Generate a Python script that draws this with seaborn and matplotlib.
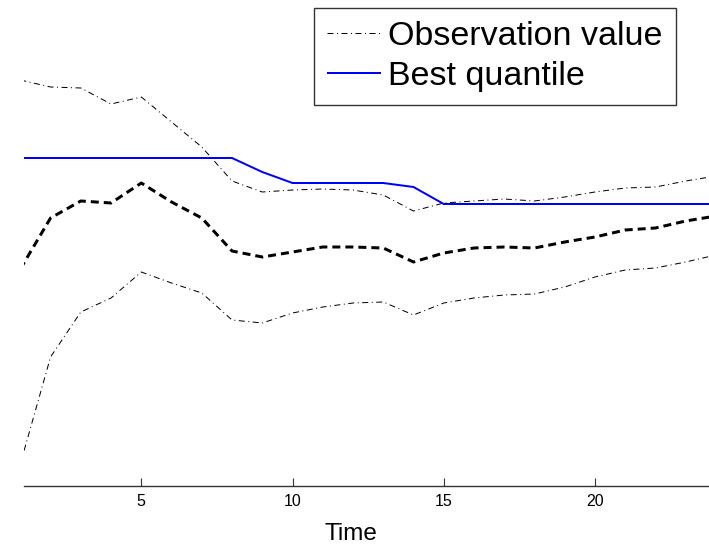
import matplotlib
matplotlib.use("Agg")
import matplotlib.pyplot as plt
import seaborn as sns
import pandas as pd

# ---- data (y in arbitrary units) ----
time = list(range(1, 25))
obs_upper = [406, 399, 398, 382, 389, 364, 339, 305, 294, 296, 297, 296,
             291, 275, 283, 285, 287, 285, 289, 294, 298, 299, 305, 310]
obs_mean = [217, 268, 285, 283, 303, 284, 268, 235, 229, 234, 239, 239,
            238, 224, 233, 238, 239, 238, 244, 249, 256, 258, 265, 270]
obs_lower = [22, 129, 174, 188, 214, 203, 193, 166, 163, 173, 179, 183,
             184, 171, 183, 188, 191, 192, 199, 209, 216, 218, 224, 231]
best_quantile = [328, 328, 328, 328, 328, 328, 328, 328, 314, 303, 303, 303,
                 303, 299, 282, 282, 282, 282, 282, 282, 282, 282, 282, 282]
xticks = [5, 10, 15, 20]
legend_labels = ["Observation value", "Best quantile"]

sns.set_style("white")
plt.rcParams["font.family"] = ["Liberation Sans", "DejaVu Sans"]
plt.rcParams["lines.scale_dashes"] = False
plt.rcParams["text.color"] = "black"
plt.rcParams["axes.labelcolor"] = "black"
plt.rcParams["xtick.color"] = "black"

W, H = 709, 545
fig = plt.figure(figsize=(W / 100, H / 100), dpi=100)
ax = fig.add_axes([24 / W, (H - 486) / H, (709 - 24) / W, 486 / H])

df = pd.DataFrame({"Time": time, "upper": obs_upper, "mean": obs_mean,
                   "lower": obs_lower, "best": best_quantile})

px = 0.72  # one pixel in points
dashdot = (6 * px, 3.5 * px, 1 * px, 3.5 * px)

sns.lineplot(data=df, x="Time", y="upper", ax=ax, color="black",
             linewidth=1 * px, label=legend_labels[0])
sns.lineplot(data=df, x="Time", y="lower", ax=ax, color="black",
             linewidth=1 * px, label="_nolegend_")
sns.lineplot(data=df, x="Time", y="mean", ax=ax, color="black",
             linewidth=3 * px, label="_nolegend_")
sns.lineplot(data=df, x="Time", y="best", ax=ax, color="#0000ff",
             linewidth=2 * px, label=legend_labels[1])

lines = ax.get_lines()
lines[0].set_dashes(dashdot)
lines[1].set_dashes(dashdot)
lines[2].set_dashes((8 * px, 5 * px))
for ln in lines:
    ln.set_solid_capstyle("butt")
    ln.set_dash_capstyle("butt")

ax.set_xlim(1.122, 23.77)
ax.set_ylim(0, 486)
ax.set_xticks(xticks)
ax.set_xticklabels([str(t) for t in xticks], fontsize=11.5, color="black")
ax.set_yticks([])
ax.set_xlabel("Time", fontsize=17.5, color="black")
ax.xaxis.set_label_coords((351 - 24) / 685, -54 / 486)
ax.xaxis.label.set_va("baseline")
ax.set_ylabel("")
for s in ["top", "right", "left"]:
    ax.spines[s].set_visible(False)
ax.spines["bottom"].set_color("#333333")
ax.spines["bottom"].set_linewidth(1.0)
ax.tick_params(axis="x", direction="in", length=6, width=0.8, color="#333333",
               bottom=True, pad=6)

handles = [lines[0], lines[3]]
leg = ax.legend(handles, legend_labels, loc="upper left",
                bbox_to_anchor=((314 - 24) / 685, 1 - 8 / 486),
                bbox_transform=ax.transAxes, fontsize=24.5, frameon=True,
                fancybox=False, edgecolor="black", borderpad=0.39,
                handlelength=1.59, handletextpad=0.2, labelspacing=0.26,
                borderaxespad=0)
leg.get_frame().set_linewidth(1.0)
for t in leg.get_texts():
    t.set_color("black")

fig.savefig("out.png", dpi=100)
